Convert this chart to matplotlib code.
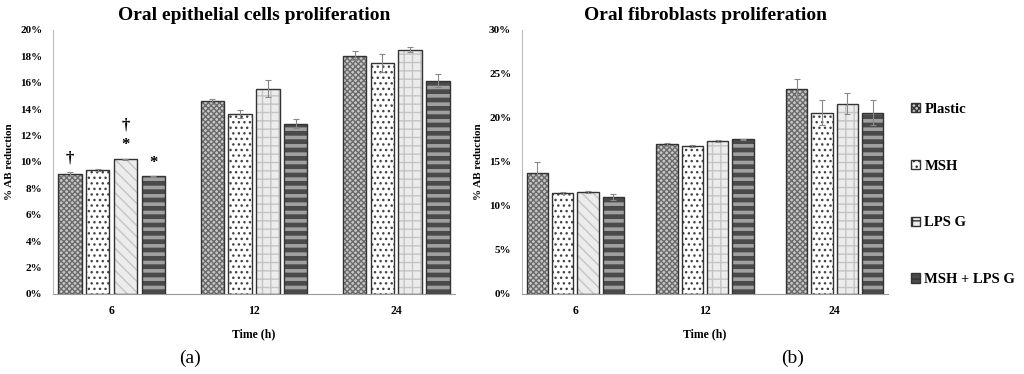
import numpy as np
import matplotlib.pyplot as plt
from matplotlib.ticker import FuncFormatter
from matplotlib.patches import Patch

plt.rcParams['font.family'] = ['Liberation Serif', 'DejaVu Serif']
plt.rcParams['font.weight'] = 'bold'
plt.rcParams['axes.titleweight'] = 'bold'
plt.rcParams['axes.labelweight'] = 'bold'

times = ['6', '12', '24']
groups = ['Plastic', 'MSH', 'LPS G', 'MSH + LPS G']

# % AB reduction, one list per group (6h, 12h, 24h)
epi_plastic = [9.1, 14.6, 18.05]
epi_msh = [9.4, 13.6, 17.5]
epi_lps = [10.2, 15.55, 18.5]
epi_mshlps = [8.9, 12.9, 16.15]
epi_plastic_err = [0.15, 0.2, 0.35]
epi_msh_err = [0.05, 0.3, 0.65]
epi_lps_err = [0.05, 0.65, 0.2]
epi_mshlps_err = [0.05, 0.35, 0.5]

fib_plastic = [13.75, 17.0, 23.3]
fib_msh = [11.45, 16.8, 20.6]
fib_lps = [11.6, 17.4, 21.6]
fib_mshlps = [11.05, 17.55, 20.6]
fib_plastic_err = [1.25, 0.2, 1.1]
fib_msh_err = [0.1, 0.1, 1.45]
fib_lps_err = [0.1, 0.1, 1.2]
fib_mshlps_err = [0.35, 0.05, 1.45]

# significance marks on the epithelial 6h bars: (group index, text)
marks = [(0, '†'), (2, '†\n*'), (3, '*')]

styles = [
    dict(color='#c8c8c8', hatch='xxxxxx', hcol='#6a6a6a', hlw=1.0),
    dict(color='white', hatch='...', hcol='#444444', hlw=1.0),
    dict(color='#ececec', hatch='++', hcol='#c4c4c4', hlw=1.0),
    dict(color='#4a4a4a', hatch='--', hcol='#a0a0a0', hlw=2.6),
]

fig = plt.figure(figsize=(10.24, 3.74), dpi=100)
ax1 = fig.add_axes([0.052, 0.214, 0.392, 0.706])
ax2 = fig.add_axes([0.510, 0.214, 0.357, 0.706])

x = np.arange(len(times))
slot = 0.195
width = 0.165


def draw(ax, means, errs, ymax, step):
    for i, (m, e) in enumerate(zip(means, errs)):
        st = styles[i]
        pos = x + (i - 1.5) * slot
        hatches = [st['hatch']] * len(times)
        if i == 2:
            hatches[0] = '\\\\\\'
        with plt.rc_context({'hatch.linewidth': st['hlw']}):
            for p, v, h in zip(pos, m, hatches):
                ax.bar(p, v, width, color=st['color'], hatch=h,
                       edgecolor=st['hcol'], linewidth=0)
        ax.bar(pos, m, width, fill=False, edgecolor='#333333', linewidth=1.0)
        ax.errorbar(pos, m, yerr=e, fmt='none', ecolor='#888888',
                    elinewidth=0.8, capsize=2.5, capthick=0.8)
    ax.set_xlim(-0.41, 2.41)
    ax.set_ylim(0, ymax)
    ax.set_yticks(np.arange(0, ymax + 0.01, step))
    ax.yaxis.set_major_formatter(FuncFormatter(lambda v, p: '%d%%' % round(v)))
    ax.set_xticks(x)
    ax.set_xticklabels(times)
    ax.tick_params(length=0)
    ax.tick_params(axis='y', labelsize=8, pad=8)
    ax.tick_params(axis='x', labelsize=8.5, pad=8)
    for s in ['top', 'right']:
        ax.spines[s].set_visible(False)
    ax.spines['left'].set_color('#bbbbbb')
    ax.spines['bottom'].set_color('#999999')
    ax.set_xlabel('Time (h)', fontsize=8.5, labelpad=8)
    ax.set_ylabel('% AB reduction', fontsize=8)


draw(ax1, [epi_plastic, epi_msh, epi_lps, epi_mshlps],
     [epi_plastic_err, epi_msh_err, epi_lps_err, epi_mshlps_err], 20, 2)
draw(ax2, [fib_plastic, fib_msh, fib_lps, fib_mshlps],
     [fib_plastic_err, fib_msh_err, fib_lps_err, fib_mshlps_err], 30, 5)

ax1.set_title('Oral epithelial cells proliferation', fontsize=14, pad=7)
ax2.set_title('Oral fibroblasts proliferation', fontsize=14, pad=7)

epi = [epi_plastic, epi_msh, epi_lps, epi_mshlps]
epi_err = [epi_plastic_err, epi_msh_err, epi_lps_err, epi_mshlps_err]
for gi, txt in marks:
    ax1.text((gi - 1.5) * slot, epi[gi][0] + epi_err[gi][0] + 0.4, txt,
             ha='center', va='bottom', fontsize=12, linespacing=1.3)

lh = [Patch(facecolor=s['color'], hatch=s['hatch'], edgecolor='#333333') for s in styles]
fig.legend(lh, groups, loc='upper left', bbox_to_anchor=(0.877, 0.76),
           frameon=False, fontsize=10.5, handlelength=0.6, handleheight=0.6,
           handletextpad=0.3, labelspacing=3.0)

fig.text(0.186, 0.03, '(a)', ha='center', fontsize=14, fontweight='normal')
fig.text(0.774, 0.03, '(b)', ha='center', fontsize=14, fontweight='normal')

fig.savefig('out.png', dpi=100)
